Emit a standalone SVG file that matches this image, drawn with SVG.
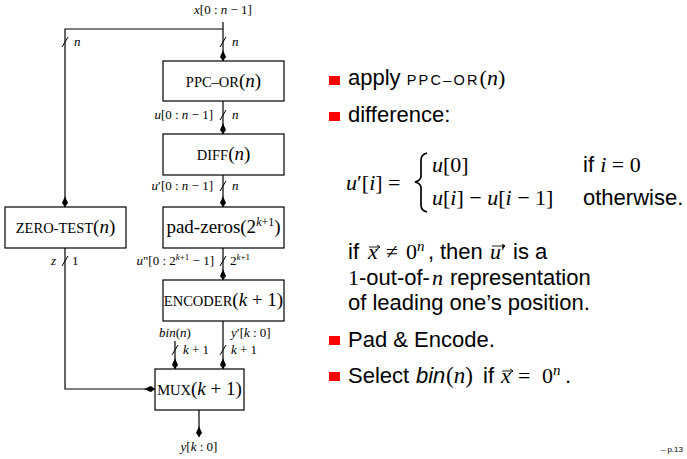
<svg xmlns="http://www.w3.org/2000/svg" width="687" height="459" viewBox="0 0 687 459">
<style>
.box{fill:#fff;stroke:#000;stroke-width:1.2}
.w{fill:none;stroke:#000;stroke-width:1.2}
.sl{fill:none;stroke:#000;stroke-width:1}
.va{fill:none;stroke:#000;stroke-width:0.9}
.m{font-family:"Liberation Serif","DejaVu Serif",serif;font-size:13px;fill:#000}
.bt{font-family:"Liberation Serif","DejaVu Serif",serif;font-size:19px;text-anchor:middle;fill:#000}
.sc{font-size:14.5px}
.i{font-style:italic}
.s{font-family:"Liberation Sans",Arial,sans-serif;font-size:22px;fill:#000}
.f{font-family:"Liberation Serif","DejaVu Serif",serif}
.bul{fill:#f00}
</style>
<defs>
<marker id="ah" viewBox="-12 -4 13 8" refX="0" refY="0" markerWidth="13" markerHeight="8" markerUnits="userSpaceOnUse" orient="auto">
<path d="M0,0 L-4,-3 C-7,-2 -9,-0.5 -11,0 C-9,0.5 -7,2 -4,3 Z" fill="#000"/>
</marker>
</defs>

<g id="connectors">
<path class="w" d="M223,22 V61" marker-end="url(#ah)"/>
<path class="w" d="M223,29 H65 V207" marker-end="url(#ah)"/>
<path class="w" d="M223,101 V134" marker-end="url(#ah)"/>
<path class="w" d="M223,175 V207" marker-end="url(#ah)"/>
<path class="w" d="M223,248 V280" marker-end="url(#ah)"/>
<path class="w" d="M223,321 V369" marker-end="url(#ah)"/>
<path class="w" d="M175,341 V369" marker-end="url(#ah)"/>
<path class="w" d="M65,248 V389 H155" marker-end="url(#ah)"/>
<path class="w" d="M199,410 V437" marker-end="url(#ah)"/>
<path class="sl" d="M62,47 L68,37 M220,47 L226,37 M220,120 L226,110 M220,191 L226,181 M62,266 L68,256 M220,266 L226,256 M172,355 L178,345 M220,355 L226,345"/>
</g>

<g id="labels">
<text class="m" x="223" y="14" text-anchor="middle"><tspan class="i">x</tspan>[0 : <tspan class="i">n</tspan> − 1]</text>
<text class="m i" x="74" y="46">n</text>
<text class="m i" x="232" y="46">n</text>
<text class="m" x="213" y="119" text-anchor="end"><tspan class="i">u</tspan>[0 : <tspan class="i">n</tspan> − 1]</text>
<text class="m i" x="232" y="119">n</text>
<text class="m" x="213" y="190" text-anchor="end"><tspan class="i">u</tspan>′[0 : <tspan class="i">n</tspan> − 1]</text>
<text class="m i" x="232" y="190">n</text>
<text class="m i" x="51" y="265">z</text>
<text class="m" x="72" y="265">1</text>
<text class="m" x="214" y="265" text-anchor="end"><tspan class="i">u</tspan>"[0 : 2<tspan font-size="9" dy="-5"><tspan class="i">k</tspan>+1</tspan><tspan dy="5"> − 1]</tspan></text>
<text class="m" x="230" y="265">2<tspan font-size="9" dy="-5"><tspan class="i">k</tspan>+1</tspan></text>
<text class="m i" x="175" y="337" text-anchor="middle">bin<tspan font-style="normal">(</tspan>n<tspan font-style="normal">)</tspan></text>
<text class="m" x="231" y="337"><tspan class="i">y</tspan>′[<tspan class="i">k</tspan> : 0]</text>
<text class="m" x="183" y="354"><tspan class="i">k</tspan> + 1</text>
<text class="m" x="231" y="354"><tspan class="i">k</tspan> + 1</text>
<text class="m" x="199" y="451" text-anchor="middle"><tspan class="i">y</tspan>[<tspan class="i">k</tspan> : 0]</text>
</g>

<g id="ppc-or">
<rect class="box" x="163" y="61" width="121" height="40"/>
<text class="bt" x="223.5" y="87"><tspan class="sc">PPC–OR</tspan>(<tspan class="i">n</tspan>)</text>
</g>
<g id="diff">
<rect class="box" x="163" y="134" width="121" height="41"/>
<text class="bt" x="223.5" y="160"><tspan class="sc">DIFF</tspan>(<tspan class="i">n</tspan>)</text>
</g>
<g id="pad-zeros">
<rect class="box" x="163" y="207" width="121" height="41"/>
<text class="bt" x="223.5" y="233">pad-zeros(2<tspan font-size="12" dy="-7"><tspan class="i">k</tspan>+1</tspan><tspan dy="7">)</tspan></text>
</g>
<g id="zero-test">
<rect class="box" x="5" y="207" width="121" height="41"/>
<text class="bt" x="65.5" y="233"><tspan class="sc">ZERO-TEST</tspan>(<tspan class="i">n</tspan>)</text>
</g>
<g id="encoder">
<rect class="box" x="163" y="280" width="121" height="41"/>
<text class="bt" x="223.5" y="306"><tspan class="sc">ENCODER</tspan>(<tspan class="i">k</tspan> + 1)</text>
</g>
<g id="mux">
<rect class="box" x="155" y="369" width="89" height="41"/>
<text class="bt" x="199.5" y="395"><tspan class="sc">MUX</tspan>(<tspan class="i">k</tspan> + 1)</text>
</g>

<g id="text">
<rect class="bul" x="329" y="76" width="11" height="9"/>
<text class="s" x="348" y="85">apply <tspan style="font-size:14.5px;letter-spacing:2.2px">PPC–OR</tspan><tspan class="f">(<tspan class="i">n</tspan>)</tspan></text>
<rect class="bul" x="329" y="112" width="11" height="9"/>
<text class="s" x="348" y="122">difference:</text>
<text class="s f" x="346" y="190"><tspan class="i">u</tspan>′[<tspan class="i">i</tspan>] =</text>
<path d="M427,153 C423,154 421,156 421,160 V176 C421,179 419,181 415,182 C419,183 421,185 421,188 V205 C421,209 423,211 427,212" fill="none" stroke="#000" stroke-width="1.7"/>
<text class="s f" x="432" y="172"><tspan class="i">u</tspan>[0]</text>
<text class="s f" x="432" y="205"><tspan class="i">u</tspan>[<tspan class="i">i</tspan>] − <tspan class="i">u</tspan>[<tspan class="i">i</tspan> − 1]</text>
<text class="s" x="583" y="172">if <tspan class="f"><tspan class="i">i</tspan> = 0</tspan></text>
<text class="s" x="583" y="205">otherwise.</text>

<text class="s" y="259"><tspan x="348">if</tspan><tspan x="368" class="f i">x</tspan><tspan x="386" class="f">≠</tspan><tspan x="406" class="f">0</tspan><tspan x="417" dy="-8" class="f i" style="font-size:15px">n</tspan><tspan x="428" dy="8">,</tspan><tspan x="440">then</tspan><tspan x="490" class="f i">u</tspan><tspan class="f">′</tspan><tspan x="513">is a</tspan></text>
<path class="va" d="M369,247 H380 M377,245 L380,247 L377,249"/>
<path class="va" d="M492,246 H505 M502,244 L505,246 L502,248"/>
<text class="s" y="285"><tspan x="348" class="f">1</tspan><tspan x="359">-out-of-</tspan><tspan x="432" class="f i">n</tspan><tspan x="450">representation</tspan></text>
<text class="s" x="348" y="310">of leading one’s position.</text>
<rect class="bul" x="329" y="336" width="11" height="9"/>
<text class="s" x="348" y="347">Pad &amp; Encode.</text>
<rect class="bul" x="329" y="372" width="11" height="9"/>
<text class="s" y="383"><tspan x="348">Select</tspan><tspan x="416" font-style="italic">bin</tspan><tspan x="446" class="f" style="font-size:23px">(<tspan class="i">n</tspan>)</tspan><tspan x="483">if</tspan><tspan x="501" class="f i">x</tspan><tspan x="518" class="f">=</tspan><tspan x="542" class="f">0</tspan><tspan x="553" dy="-8" class="f i" style="font-size:15px">n</tspan><tspan x="565" dy="8">.</tspan></text>
<path class="va" d="M502,371 H513 M510,369 L513,371 L510,373"/>
<text font-family="Liberation Sans,Arial,sans-serif" font-size="8" x="683" y="452" text-anchor="end">– p.13</text>
</g>
</svg>
